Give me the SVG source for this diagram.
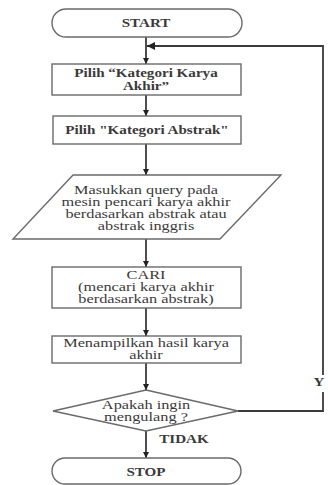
<svg xmlns="http://www.w3.org/2000/svg" width="328" height="485" viewBox="0 0 328 485">
<style>
.shape{fill:#fff;stroke:#6a6a6a;stroke-width:1.4}
.conn{fill:none;stroke:#3a3a3a;stroke-width:1.8}
text{font-family:'Liberation Serif','DejaVu Serif',serif;font-size:12px;fill:#3a3a3a;text-anchor:middle}
.b{font-weight:bold}
</style>
<defs>
<marker id="ah" viewBox="0 0 10 10" refX="10" refY="5" markerWidth="6" markerHeight="6" markerUnits="userSpaceOnUse" orient="auto">
<path d="M0,0 L10,5 L0,10 Z" fill="#222"/>
</marker>
<marker id="ah2" viewBox="0 0 10 10" refX="10" refY="5" markerWidth="10" markerHeight="8" markerUnits="userSpaceOnUse" orient="auto">
<path d="M0,0 L10,5 L0,10 Z" fill="#222"/>
</marker>
</defs>
<rect width="328" height="485" fill="#fff"/>
<g id="connectors">
<path class="conn" d="M146,37 V64" marker-end="url(#ah)"/>
<path class="conn" d="M146,95 V116" marker-end="url(#ah)"/>
<path class="conn" d="M146,144 V175" marker-end="url(#ah)"/>
<path class="conn" d="M146,239 V267" marker-end="url(#ah)"/>
<path class="conn" d="M146,308 V336" marker-end="url(#ah)"/>
<path class="conn" d="M146,363 V390" marker-end="url(#ah)"/>
<path class="conn" d="M146,431 V458" marker-end="url(#ah)"/>
<path class="conn" d="M238,411 H323 V392"/>
<path class="conn" d="M323,375 V46 H147" marker-end="url(#ah2)"/>
<text class="b" x="0" y="386" transform="translate(319,0) scale(1.26,1)">Y</text>
<text class="b" x="0" y="443" transform="translate(184,0) scale(1.26,1)">TIDAK</text>
</g>
<g id="start">
<rect class="shape" x="52" y="9" width="190" height="28" rx="14"/>
<text class="b" x="0" y="27" transform="translate(146,0) scale(1.26,1)">START</text>
</g>
<g id="pilih-kategori-karya">
<rect class="shape" x="52" y="64" width="189" height="31"/>
<g transform="translate(146,0) scale(1.26,1)">
<text class="b" x="0" y="77">Pilih “Kategori Karya</text>
<text class="b" x="0" y="90">Akhir”</text>
</g>
</g>
<g id="pilih-kategori-abstrak">
<rect class="shape" x="53" y="116" width="188" height="28"/>
<text class="b" x="0" y="134" transform="translate(147,0) scale(1.26,1)">Pilih "Kategori Abstrak"</text>
</g>
<g id="masukkan-query">
<polygon class="shape" points="73,175 281,175 220,239 13,239"/>
<g transform="translate(146,0) scale(1.36,1)">
<text x="0" y="194">Masukkan query pada</text>
<text x="0" y="206">mesin pencari karya akhir</text>
<text x="0" y="218">berdasarkan abstrak atau</text>
<text x="0" y="230">abstrak inggris</text>
</g>
</g>
<g id="cari">
<rect class="shape" x="52" y="267" width="189" height="41"/>
<g transform="translate(146,0) scale(1.36,1)">
<text x="0" y="279">CARI</text>
<text x="0" y="291">(mencari karya akhir</text>
<text x="0" y="303">berdasarkan abstrak)</text>
</g>
</g>
<g id="menampilkan">
<rect class="shape" x="52" y="336" width="189" height="27"/>
<g transform="translate(146,0) scale(1.36,1)">
<text x="0" y="347">Menampilkan hasil karya</text>
<text x="0" y="359">akhir</text>
</g>
</g>
<g id="apakah-mengulang">
<polygon class="shape" points="146,390 238,411 146,431 53,411"/>
<g transform="translate(146,0) scale(1.36,1)">
<text x="0" y="409">Apakah ingin</text>
<text x="0" y="421">mengulang ?</text>
</g>
</g>
<g id="stop">
<rect class="shape" x="52" y="458" width="189" height="26" rx="13"/>
<text class="b" x="0" y="476" transform="translate(146,0) scale(1.26,1)">STOP</text>
</g>
</svg>
